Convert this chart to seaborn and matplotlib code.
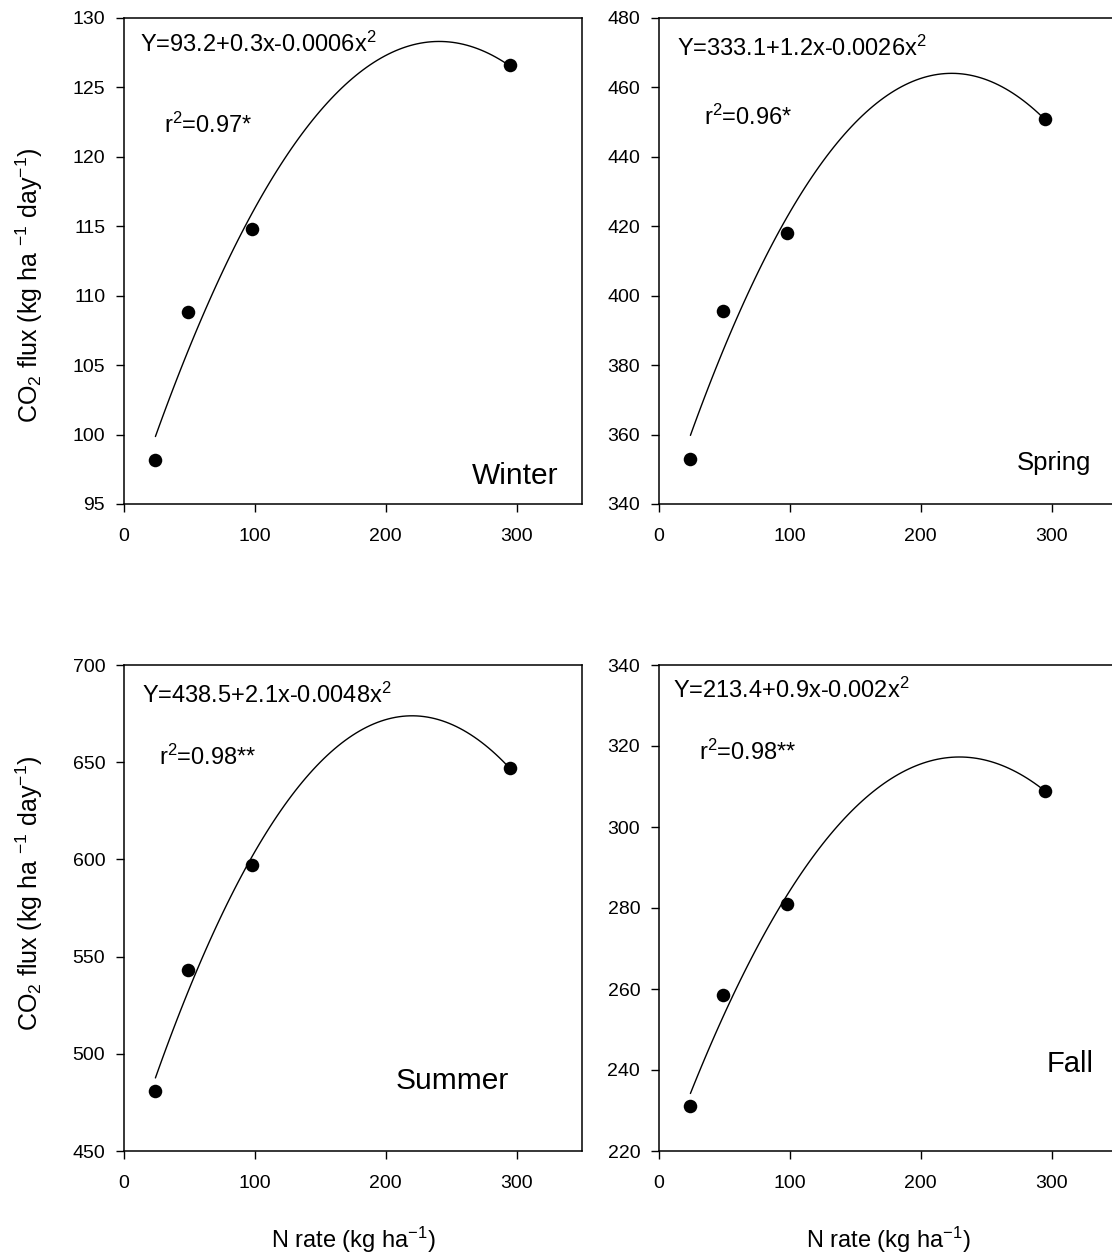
import numpy as np
import pandas as pd
import matplotlib
matplotlib.use('Agg')
import matplotlib.pyplot as plt
import seaborn as sns

# -------------------------------------------------------
# Data
# -------------------------------------------------------
n_rate = [24, 49, 98, 295]
winter = [98.2, 108.8, 114.8, 126.6]
spring = [353.0, 395.5, 418.0, 451.0]
summer = [481.0, 543.0, 597.0, 647.0]
fall = [231.0, 258.5, 281.0, 309.0]

seasons = ['Winter', 'Spring', 'Summer', 'Fall']
equations = ['Y=93.2+0.3x-0.0006x$^2$', 'Y=333.1+1.2x-0.0026x$^2$',
             'Y=438.5+2.1x-0.0048x$^2$', 'Y=213.4+0.9x-0.002x$^2$']
r2_labels = ['r$^2$=0.97*', 'r$^2$=0.96*', 'r$^2$=0.98**', 'r$^2$=0.98**']
y_ticks = [np.arange(95, 131, 5), np.arange(340, 481, 20),
           np.arange(450, 701, 50), np.arange(220, 341, 20)]
x_ticks = [0, 100, 200, 300]

df = pd.DataFrame({'n_rate': n_rate, 'Winter': winter, 'Spring': spring,
                   'Summer': summer, 'Fall': fall})

# -------------------------------------------------------
# Style
# -------------------------------------------------------
sns.set_style('ticks')
plt.rcParams['font.family'] = ['Liberation Sans', 'DejaVu Sans']
plt.rcParams['mathtext.fontset'] = 'custom'
plt.rcParams['mathtext.rm'] = 'Liberation Sans'
plt.rcParams['mathtext.it'] = 'Liberation Sans'
plt.rcParams['mathtext.default'] = 'regular'
plt.rcParams['text.color'] = 'black'
plt.rcParams['axes.labelcolor'] = 'black'

fig = plt.figure(figsize=(11.12, 12.55), dpi=100)

W, H = 1112, 1255
ax_w, ax_h = 458, 486
positions = [(124, 18), (659, 18), (124, 665), (659, 665)]

# label placement (axes fraction)
eq_pos = [(0.035, 0.946), (0.039, 0.938), (0.039, 0.938), (0.031, 0.947)]
r2_pos = [(0.087, 0.78), (0.098, 0.796), (0.077, 0.81), (0.087, 0.82)]
season_pos = [(0.949, 0.057, 21.5), (0.944, 0.084, 18.5),
              (0.84, 0.144, 21.5), (0.949, 0.179, 21)]

for i, season in enumerate(seasons):
    left, top = positions[i]
    ax = fig.add_axes([left / W, 1 - (top + ax_h) / H, ax_w / W, ax_h / H])

    sns.regplot(x='n_rate', y=season, data=df, order=2, ci=None, ax=ax,
                scatter_kws=dict(s=95, color='black', alpha=1, zorder=3, linewidths=0),
                line_kws=dict(color='black', lw=1.0))

    ax.set_xlim(0, 350)
    ax.set_ylim(y_ticks[i][0], y_ticks[i][-1])
    ax.set_xticks(x_ticks)
    ax.set_yticks(y_ticks[i])
    ax.tick_params(axis='both', direction='out', length=5.5, width=1,
                   labelsize=14, colors='black')
    ax.tick_params(axis='x', pad=12)
    ax.tick_params(axis='y', pad=8)
    for sp in ax.spines.values():
        sp.set_visible(True)
        sp.set_linewidth(1.1)
        sp.set_color('black')

    ax.text(eq_pos[i][0], eq_pos[i][1], equations[i], transform=ax.transAxes,
            fontsize=17, ha='left', va='center')
    ax.text(r2_pos[i][0], r2_pos[i][1], r2_labels[i], transform=ax.transAxes,
            fontsize=17, ha='left', va='center')
    sx, sy, sfs = season_pos[i]
    ax.text(sx, sy, season, transform=ax.transAxes, fontsize=sfs,
            ha='right', va='center')

    if i % 2 == 0:
        ax.set_ylabel('CO$_2$ flux (kg ha $^{-1}$ day$^{-1}$)', fontsize=18)
        ax.yaxis.set_label_coords(-0.172, 0.45 if i == 0 else 0.53)
    else:
        ax.set_ylabel('')

    if i >= 2:
        ax.set_xlabel('N rate (kg ha$^{-1}$)', fontsize=17)
        ax.xaxis.set_label_coords(0.5, -0.152)
    else:
        ax.set_xlabel('')

plt.savefig('out.png', dpi=100)
plt.close()
